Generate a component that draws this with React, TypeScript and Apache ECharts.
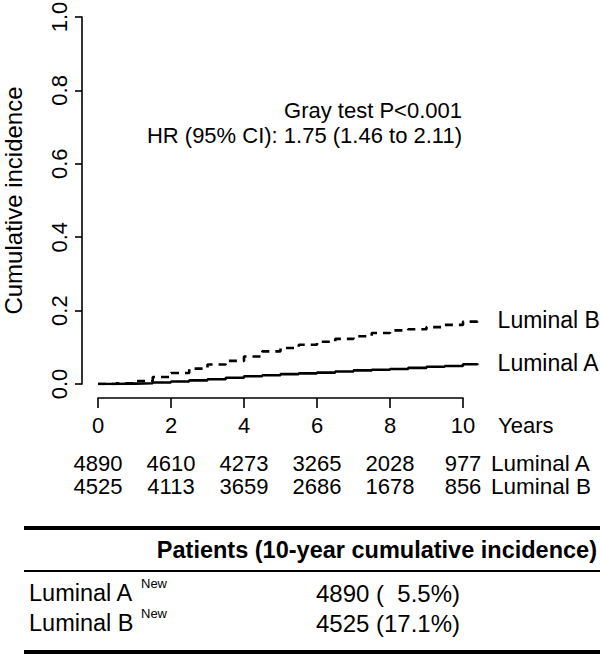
import React, { useEffect, useRef } from 'react';
import * as echarts from 'echarts';

// Follow-up time (years) and cumulative incidence
const years = [0, 0.5, 1, 1.5, 2, 2.5, 3, 3.5, 4, 4.5, 5, 5.5, 6, 6.5, 7, 7.5, 8, 8.5, 9, 9.5, 10, 10.4];
const luminalA = [0, 0.001, 0.002, 0.004, 0.007, 0.010, 0.013, 0.017, 0.021, 0.024, 0.027, 0.029, 0.031, 0.034, 0.037, 0.039, 0.041, 0.044, 0.047, 0.049, 0.054, 0.056];
const luminalB = [0, 0.002, 0.008, 0.019, 0.030, 0.042, 0.053, 0.063, 0.075, 0.089, 0.098, 0.107, 0.115, 0.123, 0.130, 0.139, 0.146, 0.149, 0.155, 0.161, 0.170, 0.175];

// Number at risk (at 0, 2, 4, 6, 8, 10 years)
const riskTicks = [0, 2, 4, 6, 8, 10];
const riskA = [4890, 4610, 4273, 3265, 2028, 977];
const riskB = [4525, 4113, 3659, 2686, 1678, 856];
const riskNames = ['Luminal A', 'Luminal B'];

// Table below the plot
const tableGroups = ['Luminal A', 'Luminal B'];
const tablePatients = [4890, 4525];
const tableIncidence = ['5.5', '17.1'];

const FONT = '"Liberation Sans", Arial, Helvetica, sans-serif';

export default function App() {
  const ref = useRef<HTMLDivElement>(null);

  useEffect(() => {
    document.body.style.margin = '0';
    if (!ref.current) return;
    const chart = echarts.init(ref.current, null, { renderer: 'svg' });

    const txt = { color: '#000', fontFamily: FONT, fontSize: 22 };
    const rowOffsets = [65, 88];

    const riskAxis = (vals: number[], offset: number) => ({
      type: 'value',
      gridIndex: 1,
      position: 'bottom',
      min: 0,
      max: 10,
      interval: 2,
      offset,
      axisLine: { show: false },
      axisTick: { show: false },
      splitLine: { show: false },
      axisLabel: {
        ...txt,
        margin: 0,
        verticalAlign: 'middle',
        formatter: (v: number) => {
          const i = riskTicks.indexOf(Math.round(v));
          return i >= 0 ? String(vals[i]) : '';
        },
      },
    });

    const plainText = (text: string, x: number, y: number, extra: any = {}) => ({
      type: 'text',
      x,
      y,
      style: { text, fill: '#000', fontFamily: FONT, fontSize: 22, align: 'left', verticalAlign: 'middle', ...extra },
    });

    const tableTexts: any[] = [];
    const rowY = [593, 623];
    tableGroups.forEach((g, i) => {
      tableTexts.push(plainText(g, 29, rowY[i], { fontSize: 23.5 }));
      tableTexts.push(plainText('New', 141, rowY[i] - 10, { fontSize: 13 }));
      tableTexts.push(
        plainText(`${tablePatients[i]} (${tableIncidence[i].padStart(4, '\u2007')}%)`, 388, rowY[i], {
          fontSize: 24,
          align: 'center',
        })
      );
    });

    chart.setOption({
      animation: false,
      backgroundColor: '#fff',
      grid: [
        { left: 98, top: 17, width: 379.6, height: 367, containLabel: false, outerBoundsMode: 'none' },
        { left: 98, top: 397, width: 365, height: 1, containLabel: false, outerBoundsMode: 'none' },
      ],
      xAxis: [
        { type: 'value', gridIndex: 0, min: 0, max: 10.4, show: false },
        {
          type: 'value',
          gridIndex: 1,
          min: 0,
          max: 10,
          interval: 2,
          position: 'bottom',
          axisLine: { show: true, onZero: false, lineStyle: { color: '#000', width: 1.6 } },
          axisTick: { show: true, length: 10, lineStyle: { color: '#000', width: 1.6 } },
          splitLine: { show: false },
          axisLabel: { ...txt, margin: 16 },
        },
        riskAxis(riskA, rowOffsets[0]),
        riskAxis(riskB, rowOffsets[1]),
      ],
      yAxis: [
        {
          type: 'value',
          gridIndex: 0,
          min: 0,
          max: 1,
          interval: 0.2,
          offset: 16,
          axisLine: { show: true, onZero: false, lineStyle: { color: '#000', width: 1.6 } },
          axisTick: { show: true, length: 7, lineStyle: { color: '#000', width: 1.6 } },
          splitLine: { show: false },
          axisLabel: {
            ...txt,
            rotate: 90,
            margin: 12,
            align: 'center',
            verticalAlign: 'bottom',
            formatter: (v: number) => v.toFixed(1),
          },
          name: 'Cumulative incidence',
          nameLocation: 'middle',
          nameRotate: 90,
          nameGap: 57,
          nameTextStyle: { ...txt, fontSize: 24 },
        },
        { type: 'value', gridIndex: 1, show: false },
      ],
      series: [
        {
          name: 'Luminal A',
          type: 'line',
          xAxisIndex: 0,
          yAxisIndex: 0,
          step: 'end',
          showSymbol: false,
          data: years.map((t, i) => [t, luminalA[i]]),
          lineStyle: { color: '#000', width: 2.6 },
          endLabel: { show: true, formatter: '{a}', distance: 20, ...txt, fontSize: 23 },
        },
        {
          name: 'Luminal B',
          type: 'line',
          xAxisIndex: 0,
          yAxisIndex: 0,
          step: 'end',
          showSymbol: false,
          data: years.map((t, i) => [t, luminalB[i]]),
          lineStyle: { color: '#000', width: 2.6, type: [8, 6] },
          endLabel: { show: true, formatter: '{a}', distance: 20, ...txt, fontSize: 23 },
        },
      ],
      graphic: [
        plainText('Gray test P<0.001', 462, 110, { align: 'right' }),
        plainText('HR (95% CI): 1.75 (1.46 to 2.11)', 462, 135, { align: 'right' }),
        plainText('Years', 498, 425),
        plainText(riskNames[0], 491, 397 + rowOffsets[0] + 1, { fontSize: 22.5 }),
        plainText(riskNames[1], 491, 397 + rowOffsets[1] + 1, { fontSize: 22.5 }),
        { type: 'rect', shape: { x: 24, y: 526, width: 576, height: 4 }, style: { fill: '#000' } },
        plainText('Patients (10-year cumulative incidence)', 597, 550, {
          fontSize: 23.5,
          fontWeight: 'bold',
          align: 'right',
        }),
        { type: 'rect', shape: { x: 24, y: 570, width: 576, height: 2 }, style: { fill: '#000' } },
        ...tableTexts,
        { type: 'rect', shape: { x: 24, y: 650, width: 576, height: 4 }, style: { fill: '#000' } },
      ],
    });

    return () => chart.dispose();
  }, []);

  return <div ref={ref} style={{ width: 600, height: 655 }} />;
}
